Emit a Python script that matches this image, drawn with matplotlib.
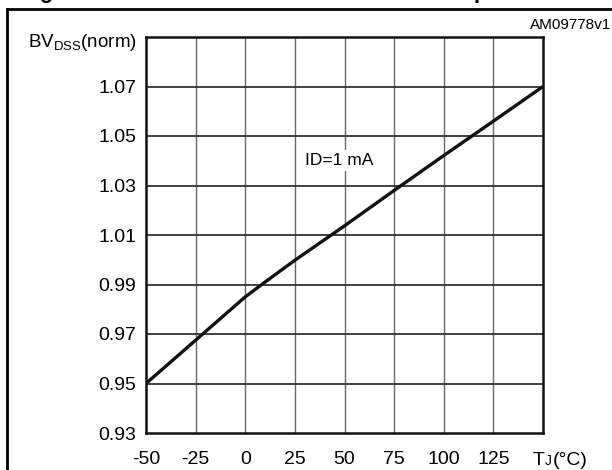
import matplotlib.pyplot as plt
from matplotlib.lines import Line2D

# Normalized breakdown voltage vs junction temperature (ID = 1 mA)
temp_c = [-50, -25, 0, 10, 25, 50, 75, 100, 125, 150]
bv_norm = [0.950, 0.9675, 0.9850, 0.9910, 0.9998, 1.0137, 1.0280, 1.0421, 1.0560, 1.0700]

x_ticks = [-50, -25, 0, 25, 50, 75, 100, 125, 150]
x_labels = ['-50', '-25', '0', '25', '50', '75', '100', '125', '']
y_ticks = [0.93, 0.95, 0.97, 0.99, 1.01, 1.03, 1.05, 1.07]
y_labels = ['0.93', '0.95', '0.97', '0.99', '1.01', '1.03', '1.05', '1.07']

plt.rcParams['font.family'] = ['Liberation Sans', 'DejaVu Sans']
plt.rcParams['mathtext.fontset'] = 'custom'
plt.rcParams['mathtext.rm'] = 'Liberation Sans'

W, H = 612, 470
fig = plt.figure(figsize=(W / 100, H / 100), dpi=100)
ax = fig.add_axes([146 / W, (H - 433) / H, 397 / W, 396 / H])

# grid
for x in x_ticks[1:-1]:
    ax.axvline(x, color='#666666', lw=1.0, zorder=1)
for y in y_ticks[1:]:
    ax.axhline(y, color='#333333', lw=1.3, zorder=1)

ax.plot(temp_c, bv_norm, color='#111111', lw=2.4, zorder=3, solid_capstyle='butt')

ax.set_xlim(-50, 150)
ax.set_ylim(0.93, 1.09)
ax.set_xticks(x_ticks)
ax.set_xticklabels(x_labels)
ax.set_yticks(y_ticks)
ax.set_yticklabels(y_labels)
ax.tick_params(length=0, labelsize=14)
ax.tick_params(axis='x', pad=13)
ax.tick_params(axis='y', pad=7)
for s in ax.spines.values():
    s.set_linewidth(1.8)
    s.set_color('#111111')

ax.text(-0.022, 0.985, r'BV$_\mathregular{DSS}$(norm)', transform=ax.transAxes,
        ha='right', va='center', fontsize=13.5)
ax.text(30, 1.040, 'ID=1 mA', fontsize=12.5, ha='left', va='center', zorder=2,
        bbox=dict(facecolor='white', edgecolor='none', pad=2))

# x axis unit label, T with small J on the baseline
base = 1 - 465 / H
fig.text(533 / W, base, 'T', fontsize=14, va='baseline')
fig.text(545 / W, base, 'J', fontsize=10, va='baseline')
fig.text(553 / W, base, '(°C)', fontsize=14, va='baseline')

fig.text(0.998, 1 - 25 / H, 'AM09778v1', ha='right', va='center', fontsize=11)

# outer frame (top and left only) and cut-off figure caption
fig.add_artist(Line2D([7 / W, 7 / W], [0, 1 - 9 / H], color='black', lw=2))
fig.add_artist(Line2D([7 / W, 1], [1 - 9 / H, 1 - 9 / H], color='black', lw=2))
fig.text(20 / W, 1 + 1.5 / H, 'Figure', fontsize=16, fontweight='bold', va='baseline')
fig.text(337 / W, 1 - 3 / H, 'DSS', fontsize=11, fontweight='bold', va='bottom')
fig.text(474 / W, 1 + 1.5 / H, 'p', fontsize=16, fontweight='bold', va='baseline')

fig.savefig('out.png', dpi=100)
